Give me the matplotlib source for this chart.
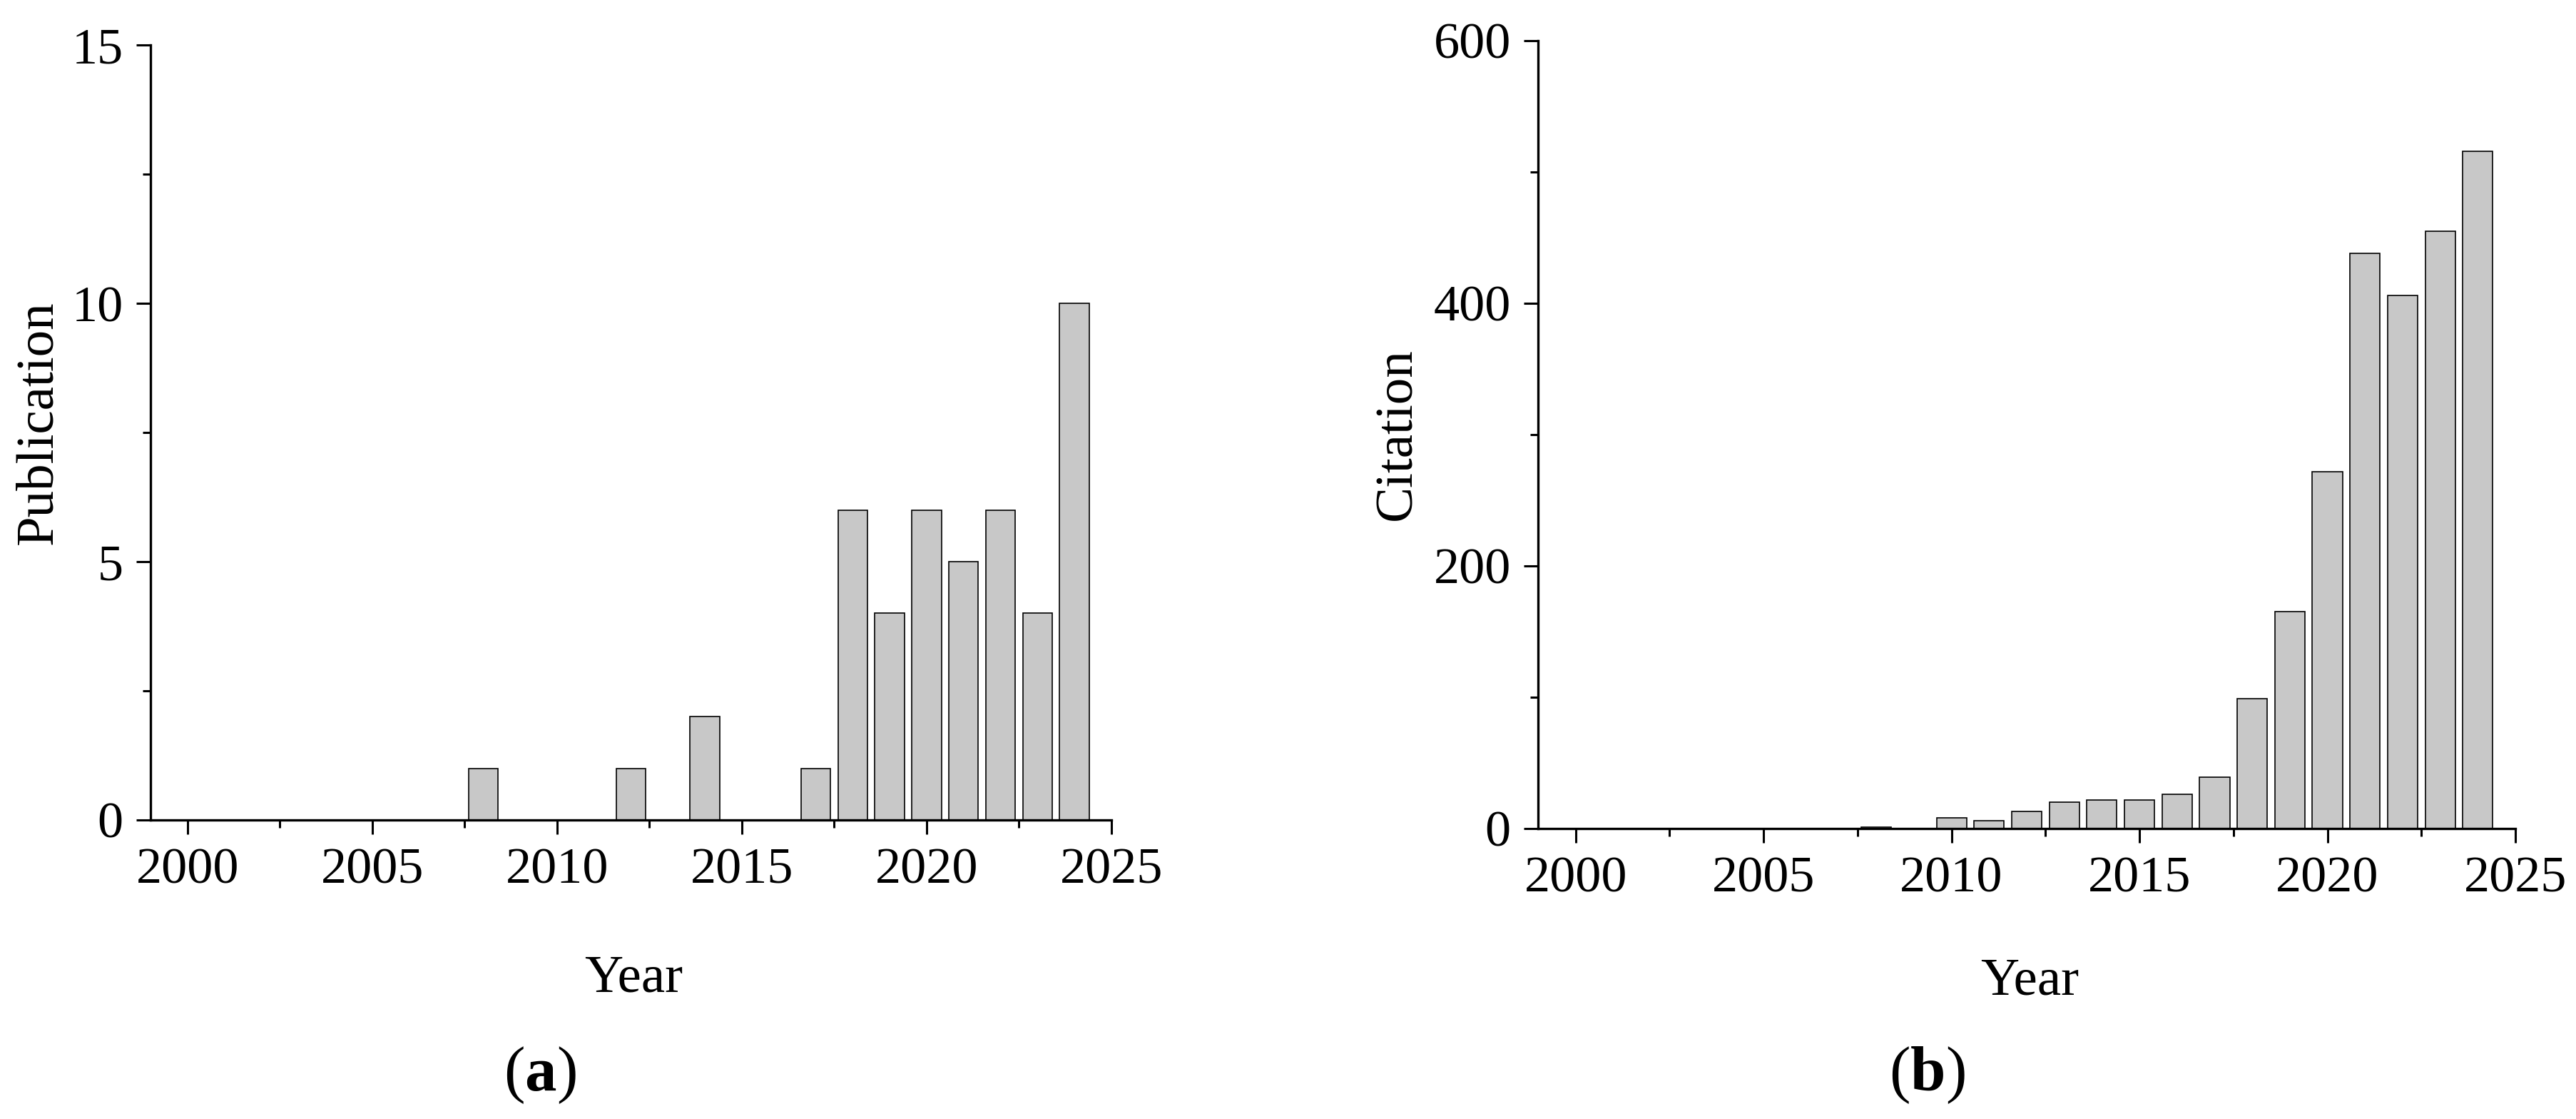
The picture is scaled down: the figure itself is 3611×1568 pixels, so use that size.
import matplotlib
matplotlib.use("Agg")
import matplotlib.pyplot as plt
from matplotlib.ticker import MultipleLocator

plt.rcParams['font.family'] = ['Liberation Serif', 'DejaVu Serif']
plt.rcParams['mathtext.fontset'] = 'custom'
plt.rcParams['mathtext.rm'] = 'Liberation Serif'
plt.rcParams['mathtext.bf'] = 'Liberation Serif:bold'

years = list(range(2000, 2025))
publications = [0, 0, 0, 0, 0, 0, 0, 0, 1, 0, 0, 0, 1, 0, 2, 0, 0, 1, 6, 4, 6, 5, 6, 4, 10]
citations = [0, 0, 0, 0, 0, 0, 0, 0, 1, 0, 8, 6, 13, 20, 22, 22, 26, 39, 99, 165, 272, 438, 406, 455, 516]

W, H = 3612, 1568
fig = plt.figure(figsize=(W / 100, H / 100), dpi=100)


def px_axes(x0, x1, ytop, ybot):
    return [x0 / W, 1 - ybot / H, (x1 - x0) / W, (ybot - ytop) / H]


ax1 = fig.add_axes(px_axes(211, 1558, 63, 1149))
ax2 = fig.add_axes(px_axes(2156, 3526, 57, 1161))

bar_color = '#c8c8c8'
for ax, vals, ymax, ymaj, ymin in [(ax1, publications, 15, 5, 2.5),
                                   (ax2, citations, 600, 200, 100)]:
    ax.bar(years, vals, width=0.8, color=bar_color, edgecolor='black',
           linewidth=1.2, zorder=2)
    ax.set_xlim(1999, 2025)
    ax.set_ylim(0, ymax)
    ax.xaxis.set_major_locator(MultipleLocator(5))
    ax.xaxis.set_minor_locator(MultipleLocator(2.5))
    ax.yaxis.set_major_locator(MultipleLocator(ymaj))
    ax.yaxis.set_minor_locator(MultipleLocator(ymin))
    for s in ['top', 'right']:
        ax.spines[s].set_visible(False)
    for s in ['left', 'bottom']:
        ax.spines[s].set_linewidth(2.4)
        ax.spines[s].set_zorder(3)
    ax.tick_params(which='major', direction='out', length=14.5, width=2.2,
                   labelsize=52, pad=13)
    ax.tick_params(which='minor', direction='out', length=8, width=2.2)
    ax.set_facecolor('white')

# axis labels
fig.text(72 / W, 1 - 592 / H, 'Publication', rotation=90, rotation_mode='anchor',
         ha='center', va='baseline', fontsize=54)
fig.text(1977 / W, 1 - 608 / H, 'Citation', rotation=90, rotation_mode='anchor',
         ha='center', va='baseline', fontsize=54)
fig.text(888 / W, 1 - 1390 / H, 'Year', ha='center', va='baseline', fontsize=54)
fig.text(2845 / W, 1 - 1393 / H, 'Year', ha='center', va='baseline', fontsize=54)

# panel labels
fig.text(757 / W, 1 - 1528 / H, r'($\mathbf{a}$)', ha='center', va='baseline', fontsize=64)
fig.text(2701 / W, 1 - 1528 / H, r'($\mathbf{b}$)', ha='center', va='baseline', fontsize=64)

fig.savefig('out.png', dpi=100, facecolor='white')
